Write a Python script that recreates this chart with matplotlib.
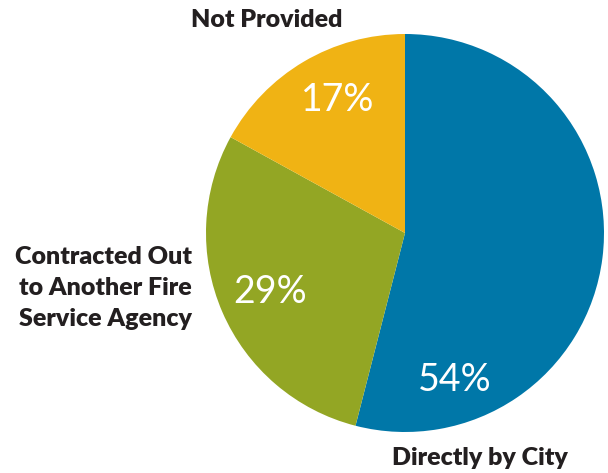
import matplotlib
matplotlib.use("Agg")
import matplotlib.pyplot as plt

labels = ["Directly by City", "Contracted Out\nto Another Fire\nService Agency", "Not Provided"]
values = [54, 29, 17]
colors = ["#0077A8", "#93A624", "#F0B314"]

W, H = 608, 473
fig = plt.figure(figsize=(W / 100, H / 100), dpi=100)
ax = fig.add_axes([0, 0, 1, 1])

cx, cy, r = 405, H - 233, 199
wedges, texts = ax.pie(values, colors=colors, startangle=90, counterclock=False,
                       center=(cx, cy), radius=r, frame=True,
                       wedgeprops=dict(linewidth=0))
ax.set_xlim(0, W)
ax.set_ylim(0, H)
ax.set_aspect("equal")
ax.axis("off")

# percent labels inside the slices
pct_pos = [(455, 380), (270, 292), (338, 100)]
for v, (px, py) in zip(values, pct_pos):
    ax.text(px, H - py, f"{v}%", color="white", fontsize=27, family="Lato",
            fontweight="normal", ha="center", va="center")

# category labels
lab_pos = [(480, 458, "center"), (192, 288, "right"), (267, 20, "center")]
for lab, (px, py, ha) in zip(labels, lab_pos):
    ax.text(px, H - py, lab, color="#231F20", fontsize=18, family="Lato",
            fontweight="heavy", ha=ha, va="center", linespacing=1.5)

fig.savefig("out.png", dpi=100)
